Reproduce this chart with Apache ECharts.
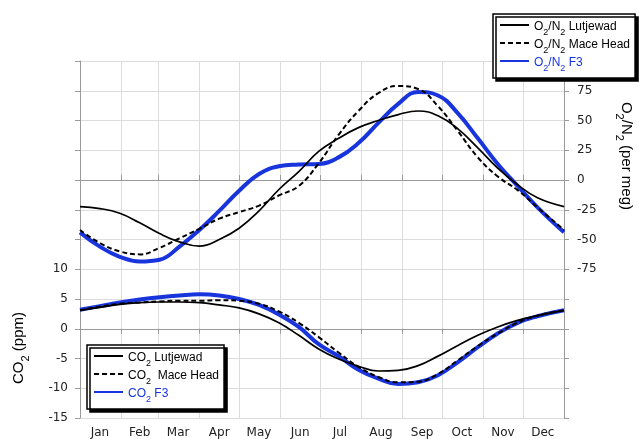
<!DOCTYPE html>
<html><head><meta charset="utf-8">
<script src="https://cdn.jsdelivr.net/npm/echarts@6/dist/echarts.min.js"></script>
<style>html,body{margin:0;padding:0;background:#fff}#c{width:639px;height:439px}</style>
</head><body><div id="c"></div>
<script>
// ---- data ----
const months = ['Jan','Feb','Mar','Apr','May','Jun','Jul','Aug','Sep','Oct','Nov','Dec'];
const monthStarts = [0,31,59,90,120,151,181,212,243,273,304,334,365];
const days = [0,15,30,45,60,75,90,105,120,135,150,165,180,195,210,225,240,255,270,285,300,315,330,345,365];

const o2Lutjewad = [-22.4,-24,-28,-36,-45,-52,-55.5,-50,-40.5,-26,-8,7,24,35,44,50,55,58,54,43,27,10,-4,-15,-22.4];
const o2MaceHead = [-42,-53,-60,-62.5,-57,-49,-41,-32.5,-27,-21.5,-13,-5,14,38,58,73,79,76.5,62,41,19,3,-8.5,-23,-42];
const o2F3       = [-44,-56,-64.5,-68.5,-67,-56,-42,-26,-9,5,11.5,13,13.5,19,31,48,64,74,71,56,35,13.5,-5,-23,-44];

const co2Lutjewad = [3.1,3.6,4.1,4.4,4.5,4.5,4.4,4.0,3.5,2.5,1.0,-1.1,-3.4,-5.1,-6.3,-7.1,-7.0,-6.2,-4.6,-2.8,-1.1,0.3,1.4,2.2,3.1];
const co2MaceHead = [3.1,3.7,4.2,4.4,4.6,4.7,4.7,4.8,4.7,4.2,2.9,1.0,-1.4,-4.0,-6.4,-8.1,-9.0,-8.9,-7.6,-5.3,-2.9,-0.8,1.0,2.2,3.1];
const co2F3       = [3.2,3.8,4.4,4.9,5.3,5.6,5.8,5.6,5.0,4.0,2.4,0.3,-2.6,-4.6,-6.9,-8.4,-9.3,-9.0,-7.8,-5.6,-3.1,-0.8,1.0,2.1,3.1];

const co2Ticks = [-15,-10,-5,0,5,10];
const o2Ticks = [-75,-50,-25,0,25,50,75];

// ---- build ----
const BLUE = '#1834dc';
const midDays = months.map((m,i)=>Math.floor((monthStarts[i]+monthStarts[i+1])/2));
const cats = Array.from({length:366},(_,d)=>{const i=midDays.indexOf(d);return i>=0?months[i]:'';});
const isBoundary = idx => monthStarts.indexOf(idx) >= 0;
const isMid = idx => midDays.indexOf(idx) >= 0;
const pts = vals => days.map((d,i)=>[d, vals[i]]);

const LF = 'Liberation Sans';
const rich = {
  n:{fontFamily:LF,fontSize:12,color:'#000',lineHeight:12,verticalAlign:'top',padding:[2,0,0,0]},
  s:{fontFamily:LF,fontSize:9,color:'#000',lineHeight:9,verticalAlign:'top',padding:[9,0,0,0]},
  bn:{fontFamily:LF,fontSize:12,color:BLUE,lineHeight:12,verticalAlign:'top',padding:[2,0,0,0]},
  bs:{fontFamily:LF,fontSize:9,color:BLUE,lineHeight:9,verticalAlign:'top',padding:[9,0,0,0]}
};
const legendText = {
  'O2/N2 Lutjewad':'{n|O}{s|2}{n|/N}{s|2}{n| Lutjewad}',
  'O2/N2 Mace Head':'{n|O}{s|2}{n|/N}{s|2}{n| Mace Head}',
  'O2/N2 F3':'{bn|O}{bs|2}{bn|/N}{bs|2}{bn| F3}',
  'CO2 Lutjewad':'{n|CO}{s|2}{n| Lutjewad}',
  'CO2 Mace Head':'{n|CO}{s|2}{n|  Mace Head}',
  'CO2 F3':'{bn|CO}{bs|2}{bn| F3}'
};
const legendBase = {
  orient:'vertical', itemWidth:29, itemHeight:12, itemGap:0, padding:[5,5,5,6],
  backgroundColor:'#fff', borderColor:'#000', borderWidth:1.5, borderRadius:0,
  shadowColor:'#000', shadowOffsetX:3, shadowOffsetY:3, shadowBlur:0,
  itemStyle:{color:'rgba(0,0,0,0)', borderColor:'rgba(0,0,0,0)', borderWidth:0, opacity:0},
  formatter: name => legendText[name], textStyle:{rich}, selectedMode:false
};

const axisGray = '#9a9a9a', gridGray = '#dcdcdc';
const tickFont = {fontFamily:'DejaVu Sans', fontSize:12, color:'#222'};

const solid = {color:'#000', width:1.7, type:'solid'};
const dashed = {color:'#000', width:2, type:[5,3]};
const blue = {color:BLUE, width:4, type:'solid'};
function mk(name, yIdx, vals, ls){
  return {name, type:'line', xAxisIndex:0, yAxisIndex:yIdx, data:pts(vals), smooth:0.45,
    symbol:'none', showSymbol:false, lineStyle:ls, itemStyle:{color:ls.color}, animation:false};
}

const xBase = {
  type:'category', data:cats, boundaryGap:false,
  axisLine:{show:true, lineStyle:{color:axisGray,width:1}},
  axisTick:{show:true, length:5, interval:(i)=>isBoundary(i), lineStyle:{color:axisGray}},
};

const option = {
  animation:false,
  backgroundColor:'#fff',
  grid:{left:80, right:75, top:61, bottom:21},
  xAxis:[
    Object.assign({}, xBase, {position:'bottom',
      axisLabel:{show:true, interval:(i)=>isMid(i), margin:9, ...tickFont},
      splitLine:{show:true, interval:(i)=>isBoundary(i), lineStyle:{color:gridGray,width:1}}}),
    Object.assign({}, xBase, {position:'top', axisLabel:{show:false}, splitLine:{show:false}})
  ],
  yAxis:[
    {type:'value', position:'left', min:-15, max:45, interval:5,
     axisLine:{show:true, lineStyle:{color:axisGray}},
     axisTick:{show:true, length:5, lineStyle:{color:axisGray}},
     axisLabel:{margin:12, ...tickFont, formatter:v=>co2Ticks.indexOf(v)>=0?String(v):''},
     splitLine:{show:true, lineStyle:{color:gridGray,width:1}}},
    {type:'value', position:'right', min:-200, max:100, interval:25,
     axisLine:{show:true, lineStyle:{color:axisGray}},
     axisTick:{show:true, length:5, lineStyle:{color:axisGray}},
     axisLabel:{margin:13, ...tickFont, formatter:v=>o2Ticks.indexOf(v)>=0?String(v):''},
     splitLine:{show:false}}
  ],
  legend:[
    Object.assign({}, legendBase, {left:493, top:14, data:['O2/N2 Lutjewad','O2/N2 Mace Head','O2/N2 F3']}),
    Object.assign({}, legendBase, {left:87, top:345, data:['CO2 Lutjewad','CO2 Mace Head','CO2 F3']})
  ],
  graphic:[
    {type:'text', x:19, y:348, rotation:Math.PI/2, silent:true,
     style:{text:'{a|CO}{b|2}{a| (ppm)}', align:'center', verticalAlign:'middle', textAlign:'center', textVerticalAlign:'middle',
       rich:{a:{fontFamily:LF,fontSize:15,color:'#000',lineHeight:15,verticalAlign:'top'},
             b:{fontFamily:LF,fontSize:11,color:'#000',lineHeight:11,verticalAlign:'top',padding:[9,0,0,0]}}}},
    {type:'text', x:626, y:156, rotation:-Math.PI/2, silent:true,
     style:{text:'{a|O}{b|2}{a|/N}{b|2}{a| (per meg)}', align:'center', verticalAlign:'middle', textAlign:'center', textVerticalAlign:'middle',
       rich:{a:{fontFamily:LF,fontSize:15,color:'#000',lineHeight:15,verticalAlign:'top'},
             b:{fontFamily:LF,fontSize:11,color:'#000',lineHeight:11,verticalAlign:'top',padding:[9,0,0,0]}}}}
  ],
  series:[
    mk('O2/N2 F3',1,o2F3,blue),
    mk('CO2 F3',0,co2F3,blue),
    mk('O2/N2 Lutjewad',1,o2Lutjewad,solid),
    mk('CO2 Lutjewad',0,co2Lutjewad,solid),
    mk('O2/N2 Mace Head',1,o2MaceHead,dashed),
    mk('CO2 Mace Head',0,co2MaceHead,dashed)
  ]
};
const chart = echarts.init(document.getElementById('c'), null, {renderer:'canvas'});
chart.setOption(option);
</script></body></html>
